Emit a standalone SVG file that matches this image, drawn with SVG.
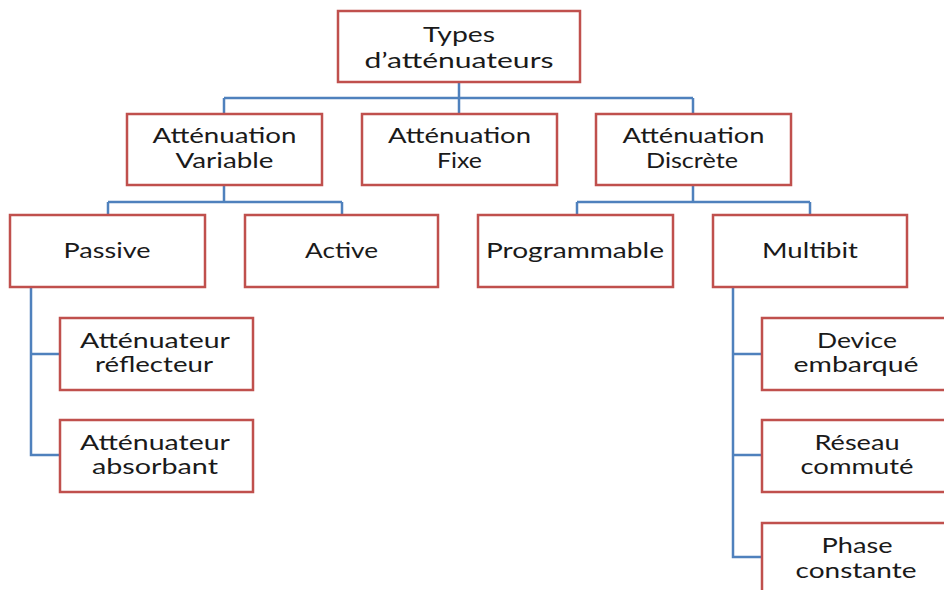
<svg xmlns="http://www.w3.org/2000/svg" width="944" height="590" viewBox="0 0 944 590">
<style>
.box{fill:#ffffff;stroke:#C0504D;stroke-width:2.5}
.c{fill:none;stroke:#4F81BD;stroke-width:2.5}
text{font-family:Lato,"Open Sans","DejaVu Sans",sans-serif;font-size:20.5px;fill:#1a1a1a;text-anchor:middle}
</style>
<rect width="944" height="590" fill="#ffffff"/>
<g id="connectors">
<path class="c" d="M459 82V98M224 98H693M224 98V114M459 98V114M693 98V114"/>
<path class="c" d="M224 185V202M108 202H342M108 202V215M342 202V215"/>
<path class="c" d="M693 185V202M577 202H810M577 202V215M810 202V215"/>
<path class="c" d="M31 287V455H60M31 354H60"/>
<path class="c" d="M733 287V557H762M733 354H762M733 455H762"/>
</g>
<g id="root"><rect class="box" x="338" y="11" width="242" height="71"/>
<text x="459" y="42" textLength="72" lengthAdjust="spacingAndGlyphs">Types</text>
<text x="459" y="68" textLength="189" lengthAdjust="spacingAndGlyphs">d’atténuateurs</text></g>
<g id="variable"><rect class="box" x="127" y="114" width="195" height="71"/>
<text x="224.5" y="143" textLength="144" lengthAdjust="spacingAndGlyphs">Atténuation</text>
<text x="224.5" y="168" textLength="98" lengthAdjust="spacingAndGlyphs">Variable</text></g>
<g id="fixe"><rect class="box" x="362" y="114" width="195" height="71"/>
<text x="459.5" y="143" textLength="143" lengthAdjust="spacingAndGlyphs">Atténuation</text>
<text x="459.5" y="168" textLength="45" lengthAdjust="spacingAndGlyphs">Fixe</text></g>
<g id="discrete"><rect class="box" x="596" y="114" width="195" height="71"/>
<text x="693.5" y="143" textLength="142" lengthAdjust="spacingAndGlyphs">Atténuation</text>
<text x="692" y="168" textLength="92" lengthAdjust="spacingAndGlyphs">Discrète</text></g>
<g id="passive"><rect class="box" x="10" y="215" width="195" height="72"/>
<text x="107" y="258" textLength="87" lengthAdjust="spacingAndGlyphs">Passive</text></g>
<g id="active"><rect class="box" x="245" y="215" width="193" height="72"/>
<text x="341.5" y="258" textLength="73" lengthAdjust="spacingAndGlyphs">Active</text></g>
<g id="programmable"><rect class="box" x="478" y="215" width="195" height="72"/>
<text x="575" y="258" textLength="178" lengthAdjust="spacingAndGlyphs">Programmable</text></g>
<g id="multibit"><rect class="box" x="713" y="215" width="194" height="72"/>
<text x="810" y="258" textLength="96" lengthAdjust="spacingAndGlyphs">Multibit</text></g>
<g id="reflecteur"><rect class="box" x="60" y="318" width="193" height="72"/>
<text x="155" y="348" textLength="150" lengthAdjust="spacingAndGlyphs">Atténuateur</text>
<text x="154" y="372" textLength="118" lengthAdjust="spacingAndGlyphs">réflecteur</text></g>
<g id="absorbant"><rect class="box" x="60" y="420" width="193" height="72"/>
<text x="155" y="450" textLength="150" lengthAdjust="spacingAndGlyphs">Atténuateur</text>
<text x="155" y="474" textLength="126" lengthAdjust="spacingAndGlyphs">absorbant</text></g>
<g id="device"><rect class="box" x="762" y="318" width="194" height="72"/>
<text x="857" y="348" textLength="80" lengthAdjust="spacingAndGlyphs">Device</text>
<text x="856" y="372" textLength="125" lengthAdjust="spacingAndGlyphs">embarqué</text></g>
<g id="reseau"><rect class="box" x="762" y="420" width="194" height="72"/>
<text x="857" y="450" textLength="85" lengthAdjust="spacingAndGlyphs">Réseau</text>
<text x="857" y="474" textLength="113" lengthAdjust="spacingAndGlyphs">commuté</text></g>
<g id="phase"><rect class="box" x="762" y="523" width="194" height="72"/>
<text x="857" y="553" textLength="71" lengthAdjust="spacingAndGlyphs">Phase</text>
<text x="856" y="578" textLength="121" lengthAdjust="spacingAndGlyphs">constante</text></g>
</svg>
